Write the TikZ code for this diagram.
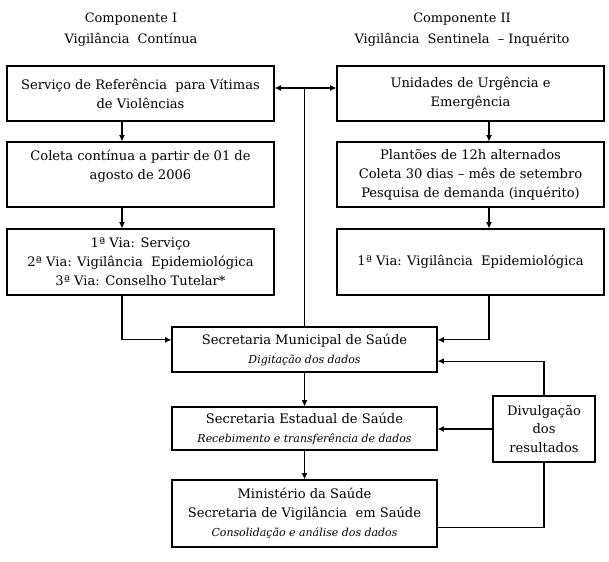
\documentclass[tikz,border=0pt]{standalone}
\usepackage{fontspec}
\setmainfont{DejaVu Serif}
\usepackage{tikz}
\usetikzlibrary{positioning, calc, arrows.meta}
\newcommand{\subtextfont}{\fontsize{7.8}{10}\selectfont\itshape}
\tikzset{
    basebox/.style={
        draw=black,
        line width=0.8pt,
        align=center,
        font=\fontsize{9.3}{13.5}\selectfont,
        inner sep=3pt
    },
    colbox/.style={basebox, minimum width=6.675cm},
    centerbox/.style={basebox, minimum width=6.625cm},
    titletext/.style={align=center, font=\fontsize{9.2}{15}\selectfont},
    myarrow/.style={-{Latex[length=1.6mm, width=1.5mm]}, line width=0.8pt},
    myline/.style={line width=0.8pt}
}

\begin{document}
\begin{tikzpicture}

    \useasboundingbox (0,0) rectangle (15.225,-14.025);

    % 1. Titulos dos componentes
    \node[titletext] (comp1) at (3.275, -0.75) {Componente I \\ Vigilância\ \ Contínua};
    \node[titletext] (comp2) at (11.55, -0.75) {Componente II \\ Vigilância\ \ Sentinela\ \ -- Inquérito};

    % 2. Componente I (coluna esquerda)
    \node[colbox, minimum height=1.375cm] (servico) at (3.5125, -2.3375) {Serviço de Referência\ \ para Vítimas \\ de Violências};
    \node[colbox, minimum height=1.625cm] (coleta) at (3.5125, -4.3625) {Coleta contínua a partir de 01 de \\ agosto de 2006 \\ \mbox{}};
    \node[colbox, minimum height=1.65cm] (vias) at (3.5125, -6.55) {1ª Via: Serviço \\ 2ª Via: Vigilância\ \ Epidemiológica \\ 3ª Via: Conselho Tutelar*};

    % 3. Componente II (coluna direita)
    \node[colbox, minimum height=1.375cm] (unidades) at (11.7625, -2.3375) {Unidades de Urgência e \\ Emergência};
    \node[colbox, minimum height=1.625cm] (plantoes) at (11.7625, -4.3625) {Plantões de 12h alternados \\ Coleta 30 dias -- mês de setembro \\ Pesquisa de demanda (inquérito)};
    \node[colbox, minimum height=1.65cm] (viaepi) at (11.7625, -6.55) {1ª Via: Vigilância\ \ Epidemiológica};

    % ==========================================
    % 4. Fluxo central (Secretarias e Ministerio)
    % ==========================================
    \node[centerbox, minimum height=1.125cm] (municipal) at (7.6125, -8.7375) {Secretaria Municipal de Saúde \\ {\subtextfont Digitação dos dados}};
    \node[centerbox, minimum height=1.075cm] (estadual) at (7.6125, -10.7125) {Secretaria Estadual de Saúde \\ {\subtextfont Recebimento e transferência de dados}};
    \node[centerbox, minimum height=1.675cm] (ministerio) at (7.6125, -12.8375) {Ministério da Saúde \\ Secretaria de Vigilância\ \ em Saúde \\ {\subtextfont Consolidação e análise dos dados}};

    % Divulgacao
    \node[basebox, minimum width=2.55cm, minimum height=1.65cm] (divulgacao) at (13.6, -10.725) {Divulgação \\ dos \\ resultados};

    % ==========================================
    % Conexoes (Setas)
    % ==========================================
    \coordinate (hub) at (7.6125, -2.2);
    \coordinate (lcol) at (3.05, 0);
    \coordinate (rcol) at (12.225, 0);

    % Ligacao entre os componentes
    \draw[myarrow] (hub) -- (hub -| servico.east);
    \draw[myarrow] (hub) -- (hub -| unidades.west);
    \draw[myline] (hub) -- (municipal.north);

    % Componente I
    \draw[myarrow] (lcol |- servico.south) -- (lcol |- coleta.north);
    \draw[myarrow] (lcol |- coleta.south) -- (lcol |- vias.north);
    \draw[myarrow] (lcol |- vias.south) |- ([yshift=0.24cm]municipal.west);

    % Componente II
    \draw[myarrow] (rcol |- unidades.south) -- (rcol |- plantoes.north);
    \draw[myarrow] (rcol |- plantoes.south) -- (rcol |- viaepi.north);
    \draw[myarrow] (rcol |- viaepi.south) |- ([yshift=0.24cm]municipal.east);

    % Fluxo vertical
    \draw[myarrow] (municipal.south) -- (estadual.north);
    \draw[myarrow] (estadual.south) -- (ministerio.north);

    % Divulgacao dos resultados
    \draw[myarrow] (divulgacao.north) |- ([yshift=-0.29cm]municipal.east);
    \draw[myarrow] (divulgacao.west) -- (divulgacao.west -| estadual.east);
    \draw[myline] (divulgacao.south) |- ([yshift=-0.34cm]ministerio.east);

\end{tikzpicture}
\end{document}
